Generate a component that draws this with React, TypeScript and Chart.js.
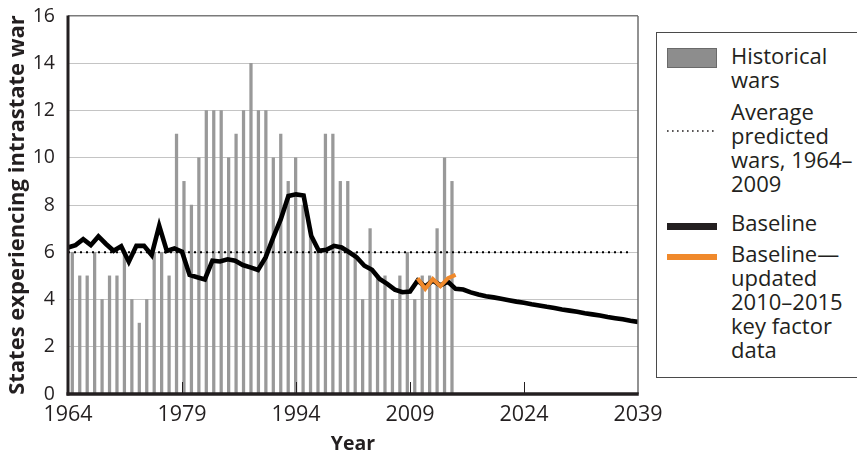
import React, { useEffect, useRef } from 'react';
import { Chart, registerables } from 'chart.js';

Chart.register(...registerables);

// ---------- data ----------
const YEARS = [
  1964, 1965, 1966, 1967, 1968, 1969, 1970, 1971, 1972, 1973,
  1974, 1975, 1976, 1977, 1978, 1979, 1980, 1981, 1982, 1983,
  1984, 1985, 1986, 1987, 1988, 1989, 1990, 1991, 1992, 1993,
  1994, 1995, 1996, 1997, 1998, 1999, 2000, 2001, 2002, 2003,
  2004, 2005, 2006, 2007, 2008, 2009, 2010, 2011, 2012, 2013,
  2014, 2015, 2016, 2017, 2018, 2019, 2020, 2021, 2022, 2023,
  2024, 2025, 2026, 2027, 2028, 2029, 2030, 2031, 2032, 2033,
  2034, 2035, 2036, 2037, 2038, 2039,
];

// Historical wars, 1964–2015
const HISTORICAL_WARS = [
  6, 5, 5, 6, 4, 5, 5, 6, 4, 3,
  4, 6, 6, 5, 11, 9, 8, 10, 12, 12,
  12, 10, 11, 12, 14, 12, 12, 10, 11, 9,
  10, 8, 7, 6, 11, 11, 9, 9, 6, 4,
  7, 5, 5, 4, 5, 6, 4, 5, 5, 7,
  10, 9,
];

// Baseline, 1964–2039
const BASELINE = [
  6.2, 6.3, 6.55, 6.3, 6.67, 6.35, 6.06, 6.25, 5.6, 6.27,
  6.27, 5.88, 7.12, 6.06, 6.16, 6.02, 5.04, 4.94, 4.85, 5.64,
  5.61, 5.7, 5.64, 5.46, 5.36, 5.25, 5.78, 6.62, 7.4, 8.38,
  8.45, 8.4, 6.7, 6.06, 6.1, 6.27, 6.2, 6.0, 5.78, 5.43,
  5.26, 4.87, 4.66, 4.42, 4.31, 4.34, 4.8, 4.55, 4.8, 4.6,
  4.75, 4.45, 4.42, 4.3, 4.21, 4.14, 4.09, 4.03, 3.97, 3.91,
  3.86, 3.8, 3.75, 3.69, 3.64, 3.58, 3.53, 3.48, 3.42, 3.37,
  3.32, 3.26, 3.21, 3.16, 3.1, 3.05,
];

const UPDATED_YEARS = [2010, 2011, 2012, 2013, 2014, 2015];
const UPDATED_BASELINE = [4.9, 4.45, 4.87, 4.56, 4.9, 5.04];

const AVERAGE_YEARS = [1964, 2038];
const AVERAGE_WARS = [6, 6];

const X_TICKS = [1964, 1979, 1994, 2009, 2024, 2039];
const Y_MIN = 0;
const Y_MAX = 16;
const Y_STEP = 2;

// ---------- styling ----------
const TEXT = '#231f20';
const FONT = '"Open Sans", "Noto Sans", sans-serif';

const framePlugin = {
  id: 'frame',
  afterDatasetsDraw(chart: any) {
    const { ctx, chartArea: a, scales } = chart;
    const x = scales.x;
    ctx.save();
    // inward tick marks
    ctx.strokeStyle = TEXT;
    ctx.lineWidth = 1;
    x.ticks.forEach((t: any) => {
      if (t.value === x.min || t.value === x.max) return;
      const px = Math.round(x.getPixelForValue(t.value)) + 0.5;
      ctx.beginPath();
      ctx.moveTo(px, a.bottom - 12);
      ctx.lineTo(px, a.bottom);
      ctx.stroke();
    });
    // right border
    ctx.strokeStyle = '#6e6e6e';
    ctx.lineWidth = 1.5;
    ctx.beginPath();
    ctx.moveTo(a.right, a.top);
    ctx.lineTo(a.right, a.bottom);
    ctx.stroke();
    // left axis
    ctx.strokeStyle = TEXT;
    ctx.lineWidth = 3;
    ctx.beginPath();
    ctx.moveTo(a.left, a.top - 0.5);
    ctx.lineTo(a.left, a.bottom + 1.5);
    ctx.stroke();
    // bottom axis
    ctx.lineWidth = 3.5;
    ctx.beginPath();
    ctx.moveTo(a.left - 1.5, a.bottom);
    ctx.lineTo(a.right + 0.75, a.bottom);
    ctx.stroke();
    ctx.restore();
  },
};

function Legend() {
  const text: React.CSSProperties = {
    position: 'absolute',
    left: 74,
    fontFamily: FONT,
    fontSize: 22,
    lineHeight: '24px',
    color: TEXT,
    whiteSpace: 'nowrap',
  };
  return (
    <div
      style={{
        position: 'absolute',
        left: 656,
        top: 32,
        width: 230,
        height: 346,
        border: '1px solid #4a4a4a',
        boxSizing: 'border-box',
        background: '#fff',
      }}
    >
      <div
        style={{
          position: 'absolute',
          left: 10,
          top: 15,
          width: 50,
          height: 20,
          background: '#8d8d8d',
          border: '1px solid #6a6a6a',
          boxSizing: 'border-box',
        }}
      />
      <div style={{ ...text, top: 10 }}>
        Historical
        <br />
        wars
      </div>

      <svg style={{ position: 'absolute', left: 10, top: 96 }} width={50} height={4}>
        <line x1={0} y1={2} x2={50} y2={2} stroke={TEXT} strokeWidth={1.6} strokeDasharray="1.6 3.4" />
      </svg>
      <div style={{ ...text, top: 66 }}>
        Average
        <br />
        predicted
        <br />
        wars, 1964–
        <br />
        2009
      </div>

      <div style={{ position: 'absolute', left: 10, top: 190, width: 50, height: 7, background: TEXT }} />
      <div style={{ ...text, top: 177 }}>Baseline</div>

      <div style={{ position: 'absolute', left: 10, top: 221, width: 50, height: 6, background: '#f0892b' }} />
      <div style={{ ...text, top: 208 }}>
        Baseline—
        <br />
        updated
        <br />
        2010–2015
        <br />
        key factor
        <br />
        data
      </div>
    </div>
  );
}

export default function App() {
  const ref = useRef<HTMLCanvasElement>(null);

  useEffect(() => {
    const canvas = ref.current;
    if (!canvas) return;

    const barData = HISTORICAL_WARS.map((v, i) => ({ x: YEARS[i], y: v }));
    const baselineData = BASELINE.map((v, i) => ({ x: YEARS[i], y: v }));
    const updatedData = UPDATED_BASELINE.map((v, i) => ({ x: UPDATED_YEARS[i], y: v }));
    const averageData = AVERAGE_WARS.map((v, i) => ({ x: AVERAGE_YEARS[i], y: v }));

    const chart = new Chart(canvas, {
      type: 'bar',
      data: {
        datasets: [
          {
            type: 'line',
            label: 'Baseline—updated 2010–2015 key factor data',
            data: updatedData,
            xAxisID: 'x',
            yAxisID: 'y',
            borderColor: '#f0892b',
            borderWidth: 4,
            pointRadius: 0,
            fill: false,
            tension: 0,
            order: 0,
          } as any,
          {
            type: 'line',
            label: 'Baseline',
            data: baselineData,
            xAxisID: 'x',
            yAxisID: 'y',
            borderColor: '#000000',
            borderWidth: 4.6,
            pointRadius: 0,
            fill: false,
            tension: 0,
            order: 1,
          } as any,
          {
            type: 'line',
            label: 'Average predicted wars, 1964–2009',
            data: averageData,
            xAxisID: 'x',
            yAxisID: 'y',
            borderColor: '#000000',
            borderWidth: 2,
            borderDash: [2, 4],
            pointRadius: 0,
            fill: false,
            order: 2,
          } as any,
          {
            type: 'bar',
            label: 'Historical wars',
            data: barData,
            xAxisID: 'xb',
            yAxisID: 'y',
            backgroundColor: '#999999',
            borderWidth: 0,
            barThickness: 2.6,
            order: 3,
          } as any,
        ],
      },
      options: {
        responsive: false,
        animation: false,
        devicePixelRatio: 1,
        layout: { padding: { left: 0, top: 16, right: 219, bottom: 0 } },
        plugins: {
          legend: { display: false },
          tooltip: { enabled: false },
        },
        scales: {
          x: {
            type: 'linear',
            position: 'bottom',
            min: X_TICKS[0],
            max: X_TICKS[X_TICKS.length - 1],
            offset: false,
            afterBuildTicks: (s: any) => {
              s.ticks = X_TICKS.map((v) => ({ value: v }));
            },
            afterFit: (s: any) => {
              s.height = 62;
              s.paddingLeft = 0;
              s.paddingRight = 0;
            },
            grid: { display: false, drawTicks: false },
            border: { display: false },
            ticks: {
              autoSkip: false,
              maxRotation: 0,
              minRotation: 0,
              padding: 8,
              color: TEXT,
              font: { family: FONT, size: 21.5 },
              callback: (v: any) => String(v),
            },
            title: {
              display: true,
              text: 'Year',
              color: TEXT,
              font: { family: FONT, size: 19.5, weight: 'bold' },
              padding: { top: 0, bottom: 0 },
            },
          },
          xb: {
            type: 'linear',
            display: false,
            min: 1963.597,
            max: 2040.16,
            offset: false,
          },
          y: {
            type: 'linear',
            position: 'left',
            min: Y_MIN,
            max: Y_MAX,
            afterFit: (s: any) => {
              s.width = 68;
              s.paddingTop = 0;
              s.paddingBottom = 0;
            },
            ticks: {
              stepSize: Y_STEP,
              padding: 13,
              color: TEXT,
              font: { family: FONT, size: 19.5 },
            },
            grid: {
              drawTicks: false,
              color: (c: any) => {
                const v = c.tick ? c.tick.value : null;
                if (v === Y_MAX) return '#7a7a7a';
                if (v === Y_MIN) return 'rgba(0,0,0,0)';
                return '#c4c4c4';
              },
              lineWidth: (c: any) => (c.tick && c.tick.value === Y_MAX ? 1.5 : 1),
            },
            border: { display: false },
            title: {
              display: true,
              text: 'States experiencing intrastate war',
              color: TEXT,
              font: { family: FONT, size: 22, weight: 'bold' },
              padding: { top: 5, bottom: 0 },
            },
          },
        },
      } as any,
      plugins: [framePlugin],
    });

    return () => chart.destroy();
  }, []);

  return (
    <div
      style={{
        position: 'fixed',
        left: 0,
        top: 0,
        width: 857,
        height: 456,
        overflow: 'hidden',
        background: '#fff',
      }}
    >
      <canvas ref={ref} width={857} height={456} style={{ display: 'block', width: 857, height: 456 }} />
      <Legend />
    </div>
  );
}
